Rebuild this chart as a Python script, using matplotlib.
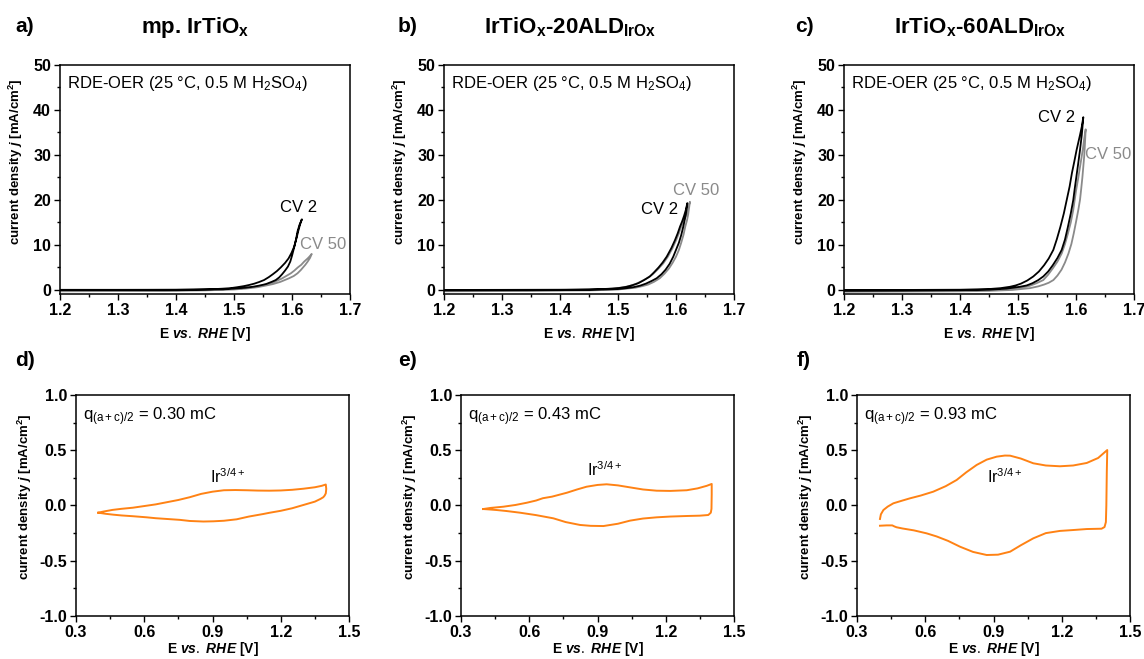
import matplotlib
matplotlib.use("Agg")
import matplotlib.pyplot as plt
from matplotlib.ticker import MultipleLocator, AutoMinorLocator, FormatStrFormatter

plt.rcParams['font.family'] = ['Liberation Sans', 'DejaVu Sans']
plt.rcParams['mathtext.fontset'] = 'custom'
plt.rcParams['mathtext.rm'] = 'Liberation Sans'
plt.rcParams['mathtext.it'] = 'Liberation Sans:italic:bold'
plt.rcParams['mathtext.bf'] = 'Liberation Sans:bold'

# ---------------- data: OER polarisation (top row) ----------------
# panel a: mp. IrTiOx
a_cv2_E = [1.20, 1.30, 1.40, 1.45, 1.48, 1.50, 1.52, 1.535, 1.545, 1.555, 1.565, 1.572, 1.578, 1.583,
           1.588, 1.593, 1.597, 1.600, 1.604, 1.607, 1.6095, 1.613, 1.617,
           1.614, 1.611, 1.608, 1.6037, 1.599, 1.594, 1.588, 1.5806, 1.574, 1.567, 1.56, 1.5518,
           1.543, 1.535, 1.526, 1.517, 1.505, 1.494, 1.48, 1.46, 1.43, 1.40, 1.30, 1.20]
a_cv2_j = [0.0, 0.0, 0.02, 0.08, 0.15, 0.3, 0.5, 0.75, 1.0, 1.3, 1.8, 2.2, 2.8, 3.5,
           4.3, 5.2, 6.3, 7.6, 9.6, 11.3, 13.0, 14.5, 15.7,
           14.6, 13.2, 11.6, 9.6, 8.2, 7.0, 6.0, 5.0, 4.2, 3.5, 2.85, 2.2,
           1.75, 1.4, 1.1, 0.85, 0.6, 0.4, 0.28, 0.15, 0.08, 0.05, 0.03, 0.03]
a_cv50_E = [1.20, 1.30, 1.40, 1.45, 1.50, 1.52, 1.54, 1.552, 1.567, 1.58, 1.595, 1.603, 1.6095,
            1.615, 1.619, 1.623, 1.627, 1.631, 1.634,
            1.630, 1.627, 1.621, 1.616, 1.61, 1.604, 1.598, 1.590, 1.582, 1.573, 1.563, 1.554,
            1.545, 1.537, 1.529, 1.515, 1.50, 1.48, 1.45, 1.40, 1.30, 1.20]
a_cv50_j = [-0.3, -0.25, -0.18, -0.1, 0.1, 0.3, 0.6, 0.9, 1.3, 1.8, 2.6, 3.1, 3.7,
            4.4, 5.0, 5.6, 6.3, 7.1, 8.0,
            7.4, 7.0, 6.3, 5.6, 5.0, 4.3, 3.7, 3.1, 2.5, 2.0, 1.5, 1.2,
            0.95, 0.75, 0.6, 0.4, 0.25, 0.12, 0.02, -0.08, -0.15, -0.2]

# panel b: IrTiOx-20ALD
b_cv2_E = [1.20, 1.30, 1.40, 1.45, 1.48, 1.50, 1.515, 1.526, 1.538, 1.548, 1.558, 1.5667, 1.575,
           1.582, 1.589, 1.5953, 1.600, 1.605, 1.609, 1.6126, 1.617, 1.6195,
           1.617, 1.614, 1.6105, 1.607, 1.603, 1.598, 1.592, 1.584, 1.577, 1.57, 1.562, 1.555,
           1.545, 1.535, 1.525, 1.515, 1.503, 1.49, 1.47, 1.45, 1.40, 1.30, 1.20]
b_cv2_j = [-0.1, -0.05, 0.0, 0.05, 0.12, 0.2, 0.4, 0.6, 0.95, 1.4, 2.0, 2.6, 3.5,
           4.5, 5.8, 7.4, 8.9, 10.5, 12.2, 14.1, 16.8, 19.3,
           17.8, 16.5, 15.2, 14.1, 12.6, 11.0, 9.3, 7.4, 6.1, 5.0, 3.9, 3.0,
           2.2, 1.5, 1.05, 0.7, 0.45, 0.3, 0.18, 0.1, 0.05, 0.02, 0.0]
b_cv50_E = [1.20, 1.30, 1.40, 1.45, 1.48, 1.50, 1.515, 1.53, 1.542, 1.552, 1.562, 1.572, 1.58,
            1.588, 1.594, 1.600, 1.605, 1.609, 1.613, 1.616, 1.619, 1.621, 1.624,
            1.62, 1.617, 1.613, 1.609, 1.605, 1.600, 1.594, 1.586, 1.578, 1.568, 1.56, 1.55,
            1.54, 1.53, 1.52, 1.51, 1.495, 1.48, 1.45, 1.40, 1.30, 1.20]
b_cv50_j = [-0.3, -0.25, -0.15, -0.1, 0.0, 0.1, 0.3, 0.5, 0.85, 1.2, 1.8, 2.6, 3.6,
            4.8, 6.0, 7.4, 8.9, 10.5, 12.3, 14.1, 15.5, 16.8, 19.6,
            17.8, 16.5, 15.2, 14.1, 12.6, 11.0, 9.3, 7.4, 5.9, 4.5, 3.5, 2.6,
            1.9, 1.3, 0.9, 0.6, 0.35, 0.2, 0.05, -0.05, -0.1, -0.1]

# panel c: IrTiOx-60ALD
c_cv2_E = [1.20, 1.30, 1.40, 1.45, 1.48, 1.503, 1.515, 1.525, 1.535, 1.5436, 1.552, 1.56, 1.568,
           1.5753, 1.581, 1.586, 1.591, 1.5953, 1.598, 1.601, 1.604, 1.6069, 1.610, 1.6126,
           1.61, 1.607, 1.604, 1.601, 1.597, 1.593, 1.589, 1.584, 1.579, 1.573, 1.567, 1.5609,
           1.553, 1.545, 1.536, 1.5264, 1.516, 1.505, 1.496, 1.486, 1.47, 1.45, 1.40, 1.30, 1.20]
c_cv2_j = [-0.2, -0.15, -0.05, 0.05, 0.3, 0.7, 1.0, 1.5, 2.2, 3.0, 4.1, 5.5, 7.1,
           8.9, 11.2, 14.0, 17.0, 20.0, 22.7, 25.5, 28.3, 31.1, 34.5, 38.4,
           36.3, 34.5, 32.8, 31.1, 28.5, 26.0, 23.0, 20.0, 17.0, 14.0, 11.3, 8.9,
           7.0, 5.5, 4.1, 3.0, 2.1, 1.4, 1.0, 0.7, 0.4, 0.2, 0.05, 0.0, 0.0]
c_cv50_E = [1.20, 1.30, 1.40, 1.45, 1.49, 1.5207, 1.535, 1.545, 1.553, 1.561, 1.568, 1.575, 1.581,
            1.587, 1.592, 1.596, 1.600, 1.604, 1.607, 1.609, 1.611, 1.6126, 1.614, 1.615, 1.6167,
            1.614, 1.612, 1.6095, 1.607, 1.6035, 1.60, 1.5975, 1.5953, 1.591, 1.586, 1.581, 1.5753,
            1.568, 1.56, 1.552, 1.5436, 1.532, 1.52, 1.505, 1.49, 1.45, 1.40, 1.30, 1.20]
c_cv50_j = [-0.4, -0.35, -0.3, -0.2, 0.0, 0.4, 0.8, 1.2, 1.6, 2.2, 3.2, 4.5, 6.1,
            8.1, 10.2, 12.5, 15.1, 17.8, 20.1, 22.5, 25.0, 27.4, 29.5, 31.5, 35.7,
            33.5, 31.5, 29.4, 27.4, 24.6, 22.0, 19.8, 17.8, 15.0, 12.5, 10.2, 8.1,
            6.3, 4.8, 3.4, 2.2, 1.5, 0.9, 0.55, 0.3, 0.0, -0.1, -0.2, -0.2]

# ---------------- data: CVs (bottom row) ----------------
d_E = [0.398, 0.42, 0.46, 0.50, 0.55, 0.60, 0.65, 0.70, 0.75, 0.80, 0.85, 0.90, 0.95, 1.00, 1.05,
       1.10, 1.15, 1.20, 1.25, 1.30, 1.35, 1.38, 1.398,
       1.400, 1.398, 1.393, 1.387, 1.375, 1.35, 1.30, 1.25, 1.20, 1.15, 1.123, 1.06, 1.006, 0.95,
       0.904, 0.86, 0.80, 0.757, 0.70, 0.65, 0.611, 0.55, 0.50, 0.464, 0.43, 0.398]
d_j = [-0.065, -0.055, -0.04, -0.03, -0.02, -0.005, 0.01, 0.03, 0.05, 0.075, 0.105, 0.125, 0.138, 0.140, 0.138,
       0.135, 0.134, 0.136, 0.142, 0.152, 0.165, 0.178, 0.19,
       0.15, 0.11, 0.09, 0.075, 0.06, 0.035, 0.005, -0.025, -0.048, -0.066, -0.077, -0.10, -0.125, -0.138,
       -0.143, -0.145, -0.14, -0.13, -0.122, -0.115, -0.107, -0.097, -0.09, -0.083, -0.075, -0.065]

e_E = [0.398, 0.43, 0.486, 0.54, 0.589, 0.63, 0.66, 0.70, 0.766, 0.81, 0.852, 0.90, 0.94, 0.99, 1.043,
       1.10, 1.16, 1.22, 1.292, 1.34, 1.38, 1.402,
       1.402, 1.401, 1.398, 1.387, 1.35, 1.292, 1.22, 1.16, 1.10, 1.043, 0.99, 0.926, 0.87, 0.823,
       0.76, 0.706, 0.63, 0.559, 0.50, 0.457, 0.42, 0.398]
e_j = [-0.032, -0.022, -0.011, 0.005, 0.025, 0.045, 0.066, 0.08, 0.116, 0.145, 0.17, 0.186, 0.192, 0.182, 0.164,
       0.145, 0.134, 0.132, 0.138, 0.155, 0.178, 0.195,
       0.10, -0.03, -0.065, -0.086, -0.092, -0.095, -0.10, -0.107, -0.118, -0.137, -0.165, -0.186, -0.184, -0.176,
       -0.15, -0.116, -0.087, -0.065, -0.05, -0.041, -0.035, -0.032]

f_E = [0.401, 0.405, 0.416, 0.435, 0.46, 0.50, 0.533, 0.58, 0.635, 0.69, 0.738, 0.78, 0.826, 0.87, 0.914,
       0.95, 0.973, 1.02, 1.075, 1.13, 1.192, 1.25, 1.31, 1.36, 1.40,
       1.398, 1.396, 1.394, 1.388, 1.375, 1.31, 1.25, 1.192, 1.13, 1.075, 1.02, 0.973, 0.92, 0.87,
       0.81, 0.753, 0.70, 0.65, 0.606, 0.55, 0.50, 0.474, 0.465, 0.455, 0.43, 0.401]
f_j = [-0.122, -0.08, -0.041, -0.01, 0.02, 0.045, 0.065, 0.09, 0.125, 0.175, 0.231, 0.30, 0.367, 0.415, 0.442,
       0.452, 0.451, 0.425, 0.382, 0.362, 0.355, 0.362, 0.385, 0.43, 0.502,
       0.30, 0.0, -0.15, -0.195, -0.21, -0.213, -0.222, -0.23, -0.25, -0.297, -0.36, -0.418, -0.445, -0.448,
       -0.42, -0.373, -0.32, -0.28, -0.252, -0.225, -0.208, -0.197, -0.19, -0.18, -0.18, -0.183]

titles = [r'mp. IrTiO$\mathregular{_x}$',
          r'IrTiO$\mathregular{_x}$-20ALD$\mathregular{_{IrOx}}$',
          r'IrTiO$\mathregular{_x}$-60ALD$\mathregular{_{IrOx}}$']
letters_top = ['a)', 'b)', 'c)']
letters_bot = ['d)', 'e)', 'f)']
charges = ['0.30', '0.43', '0.93']

BLACK = '#000000'
GREY = '#8a8a8a'
ORANGE = '#ff8214'

fig = plt.figure(figsize=(11.44, 6.59), dpi=100)
W, H = 1144, 659

def ax_at(x0, x1, ytop, ybot):
    return fig.add_axes([x0 / W, 1 - ybot / H, (x1 - x0) / W, (ybot - ytop) / H])

def style(ax):
    for s in ax.spines.values():
        s.set_linewidth(1.1)
    ax.tick_params(which='both', direction='out', top=False, right=False, width=1.0)
    ax.tick_params(which='major', length=4.5, labelsize=11.5, pad=2)
    ax.tick_params(which='minor', length=2.5)
    for lab in ax.get_xticklabels() + ax.get_yticklabels():
        lab.set_fontweight('bold')

ylab = r'current density $\mathit{j}$ [mA/cm$\mathregular{^2}$]'
xlab = r'E $\mathit{vs.\ RHE}$ [V]'
YLABEL_FS = 9.5
XLABEL_FS = 10

top_lefts = [60, 444, 844]
top_data = [(a_cv2_E, a_cv2_j, a_cv50_E, a_cv50_j),
            (b_cv2_E, b_cv2_j, b_cv50_E, b_cv50_j),
            (c_cv2_E, c_cv2_j, c_cv50_E, c_cv50_j)]
cv_labels = [((1.612, 18.4), (1.654, 10.2)),
             ((1.572, 17.8), (1.634, 22.2)),
             ((1.567, 38.4), (1.655, 30.0))]
title_x = [195, 570, 980]
letter_top_x = [15, 398, 795]

for i in range(3):
    ax = ax_at(top_lefts[i], top_lefts[i] + 290, 65, 294)
    E2, j2, E50, j50 = top_data[i]
    ax.plot(E50, j50, color=GREY, lw=1.3)
    ax.plot(E2, j2, color=BLACK, lw=1.3)
    ax.set_xlim(1.2, 1.7)
    ax.set_ylim(-0.9, 50)
    ax.xaxis.set_major_locator(MultipleLocator(0.1))
    ax.xaxis.set_minor_locator(AutoMinorLocator(2))
    ax.yaxis.set_major_locator(MultipleLocator(10))
    ax.yaxis.set_minor_locator(AutoMinorLocator(2))
    ax.xaxis.set_major_formatter(FormatStrFormatter('%.1f'))
    ax.yaxis.set_major_formatter(FormatStrFormatter('%d'))
    style(ax)
    ax.set_ylabel(ylab, fontsize=YLABEL_FS, fontweight='bold')
    ax.yaxis.set_label_coords(-0.12, (294 - 162) / 229)
    ax.set_xlabel(xlab, fontsize=XLABEL_FS, fontweight='bold')
    ax.xaxis.set_label_coords(0.5, (294 - 325) / 229)
    ax.text(0.025, 0.96, r'RDE-OER (25 °C, 0.5 M H$\mathregular{_2}$SO$\mathregular{_4}$)',
            transform=ax.transAxes, fontsize=12, ha='left', va='top')
    (x2, y2), (x50, y50) = cv_labels[i]
    ax.text(x2, y2, 'CV 2', color=BLACK, fontsize=12, ha='center', va='center')
    ax.text(x50, y50, 'CV 50', color=GREY, fontsize=12, ha='center', va='center')
    fig.text(title_x[i] / W, 1 - 27 / H, titles[i], fontsize=16, fontweight='bold',
             ha='center', va='center')
    fig.text(letter_top_x[i] / W, 1 - 26 / H, letters_top[i], fontsize=15, fontweight='bold',
             ha='left', va='center')

bot_lefts = [76, 461, 857]
bot_data = [(d_E, d_j), (e_E, e_j), (f_E, f_j)]
ir_pos = [(0.889, 0.26), (0.854, 0.32), (0.871, 0.26)]
letter_bot_x = [15, 398, 797]
for i in range(3):
    ax = ax_at(bot_lefts[i], bot_lefts[i] + 273, 395, 616)
    E, j = bot_data[i]
    ax.plot(E, j, color=ORANGE, lw=1.4)
    ax.set_xlim(0.3, 1.5)
    ax.set_ylim(-1.0, 1.0)
    ax.xaxis.set_major_locator(MultipleLocator(0.3))
    ax.xaxis.set_minor_locator(AutoMinorLocator(2))
    ax.yaxis.set_major_locator(MultipleLocator(0.5))
    ax.yaxis.set_minor_locator(AutoMinorLocator(2))
    ax.xaxis.set_major_formatter(FormatStrFormatter('%.1f'))
    ax.yaxis.set_major_formatter(FormatStrFormatter('%.1f'))
    style(ax)
    ax.set_ylabel(ylab, fontsize=YLABEL_FS, fontweight='bold')
    ax.yaxis.set_label_coords(-0.155, (616 - 497) / 221)
    ax.set_xlabel(xlab, fontsize=XLABEL_FS, fontweight='bold')
    ax.xaxis.set_label_coords(0.5, (616 - 640) / 221)
    ax.text(0.025, 0.955, r'q$\mathregular{_{(a+c)/2}}$ = ' + charges[i] + ' mC',
            transform=ax.transAxes, fontsize=12, ha='left', va='top')
    ax.text(ir_pos[i][0], ir_pos[i][1], r'Ir$\mathregular{^{3/4+}}$', fontsize=11.5,
            ha='left', va='center')
    fig.text(letter_bot_x[i] / W, 1 - 361 / H, letters_bot[i], fontsize=15, fontweight='bold',
             ha='left', va='center')

fig.savefig('out.png', dpi=100)
